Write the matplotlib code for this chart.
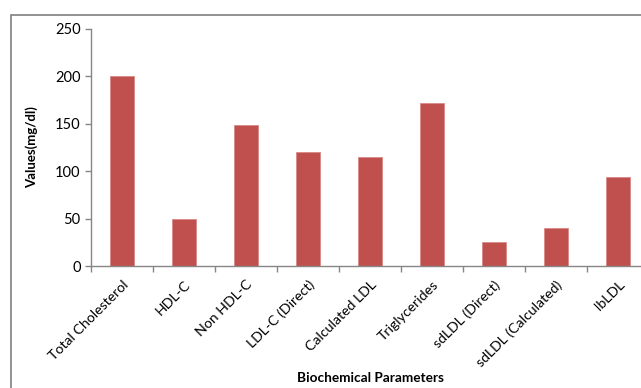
import matplotlib.pyplot as plt
from matplotlib.patches import Rectangle
import numpy as np

params = ['Total Cholesterol', 'HDL-C', 'Non HDL-C', 'LDL-C (Direct)',
          'Calculated LDL', 'Triglycerides', 'sdLDL (Direct)',
          'sdLDL (Calculated)', 'lbLDL']
values = [200, 50, 149, 120, 115, 172, 25, 40, 94]
yticks = [0, 50, 100, 150, 200, 250]

plt.rcParams['font.family'] = ['Lato', 'DejaVu Sans']

W, H = 641, 388
fig = plt.figure(figsize=(W / 100, H / 100), dpi=100)

# outer chart border
fig.patches.append(Rectangle((11 / W, -0.1), 1.2, (388 - 15) / H + 0.1,
                             transform=fig.transFigure, fill=False,
                             edgecolor='#7f7f7f', linewidth=1.2))

ax = fig.add_axes([91 / W, 122 / H, 558 / W, 237 / H])
x = np.arange(len(params))
ax.bar(x, values, width=0.4, color='#C0504D', edgecolor='#d98a88', linewidth=0.6)

ax.set_xlim(-0.5, len(params) - 0.5)
ax.set_ylim(0, 250)
ax.set_yticks(yticks)
ax.set_xticks(np.arange(len(params) + 1) - 0.5, minor=False)
ax.set_xticklabels([])
ax.set_xticks(x, minor=True)
ax.set_xticklabels(params, minor=True, rotation=45, ha='right',
                   rotation_mode='anchor', fontsize=10.2)
ax.tick_params(axis='x', which='major', length=4, color='#868686', width=1)
ax.tick_params(axis='x', which='minor', length=0, pad=9)
ax.tick_params(axis='y', length=4, color='#868686', width=1, labelsize=10.5)

for s in ['top', 'right']:
    ax.spines[s].set_visible(False)
for s in ['left', 'bottom']:
    ax.spines[s].set_color('#868686')
    ax.spines[s].set_linewidth(1)

ax.set_ylabel('Values(mg/dl)', fontweight='bold', fontsize=9.5, labelpad=12)
fig.text(370 / W, 1 - 378 / H, 'Biochemical Parameters', fontweight='bold',
         fontsize=9.8, ha='center', va='center')

fig.savefig('out.png', dpi=100)
